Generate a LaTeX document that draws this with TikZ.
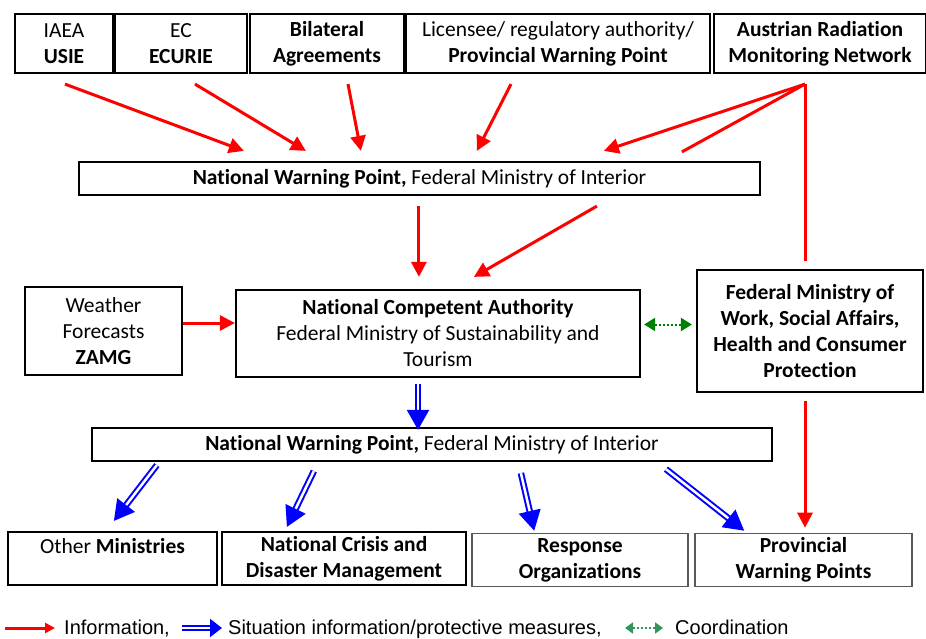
\documentclass[tikz,border=0pt]{standalone}
\usepackage{fontspec}
\setmainfont[Ligatures=NoCommon]{Carlito}
\newfontfamily\legendfont{Liberation Sans}
\usepackage{xcolor}
\usetikzlibrary{arrows.meta, calc}
\definecolor{infored}{RGB}{255,0,0}
\definecolor{situblue}{RGB}{0,0,255}
\definecolor{coordgreen}{RGB}{0,128,0}
\definecolor{leggreen}{RGB}{50,150,90}
\tikzstyle{box} = [draw, line width=2.2pt, fill=white, align=center, inner sep=2pt, font=\fontsize{21.5}{26}\selectfont]
\tikzstyle{greybox} = [box, draw=black!65, line width=1.6pt]
\tikzstyle{info} = [infored, line width=3pt, -{Triangle[length=15pt,width=15pt]}]
\tikzstyle{infoline} = [infored, line width=3pt]
\tikzstyle{situ} = [situblue, line width=2pt, double=white, double distance=2.5pt, -{Triangle[length=20pt,width=22pt]}]
\tikzstyle{coord} = [coordgreen, line width=2pt, dotted, {Triangle[length=11pt,width=13pt]}-{Triangle[length=11pt,width=13pt]}]

\begin{document}
\begin{tikzpicture}[x=1pt,y=-1pt]
	\useasboundingbox (0,0) rectangle (926,639);
	
	% Sources (top row)
	\node[box, minimum width=98pt, minimum height=59pt] (iaea) at (64,43.5) {IAEA\\\textbf{USIE}};
	\node[box, minimum width=132pt, minimum height=59pt] (ec) at (181,43.5) {EC\\\textbf{ECURIE}};
	\node[box, minimum width=154pt, minimum height=59pt] (bil) at (327,43.5) {\textbf{Bilateral}\\\textbf{Agreements}};
	\node[box, minimum width=304pt, minimum height=59pt] (lic) at (558,43.5) {Licensee/ regulatory authority/\\\textbf{Provincial Warning Point}};
	\node[box, minimum width=212pt, minimum height=59pt] (armn) at (820,43.5) {\textbf{Austrian Radiation}\\\textbf{Monitoring Network}};
	
	% Warning points and authorities
	\node[box, minimum width=681pt, minimum height=33pt] (nwpa) at (419.5,178.5) {\textbf{National Warning Point,} Federal Ministry of Interior};
	\node[box, minimum width=157pt, minimum height=88pt] (weather) at (103.5,331) {Weather\\Forecasts\\\textbf{ZAMG}};
	\node[box, minimum width=404pt, minimum height=87pt] (nca) at (438,333.5) {\textbf{National Competent Authority}\\Federal Ministry of Sustainability and\\Tourism};
	\node[box, minimum width=226pt, minimum height=122pt] (fmw) at (810,331) {\textbf{Federal Ministry of}\\\textbf{Work, Social Affairs,}\\\textbf{Health and Consumer}\\\textbf{Protection}};
	\node[box, minimum width=680pt, minimum height=33pt] (nwpb) at (432,444.5) {\textbf{National Warning Point,} Federal Ministry of Interior};
	
	% Receivers (bottom row)
	\node[box, minimum width=209pt, minimum height=53pt] (om) at (112.5,558.5) {Other \textbf{Ministries}\\\mbox{}};
	\node[box, minimum width=244pt, minimum height=53pt] (ncd) at (344,558.5) {\textbf{National Crisis and}\\\textbf{Disaster Management}};
	\node[greybox, minimum width=216pt, minimum height=53pt] (resp) at (580,560) {\textbf{Response}\\\textbf{Organizations}};
	\node[greybox, minimum width=217pt, minimum height=53pt] (prov) at (803.5,560) {\textbf{Provincial}\\\textbf{Warning Points}};
	\coordinate (armnout) at ([xshift=-15pt,yshift=-10pt]armn.south);
	
	% Information
	\draw[info] ([xshift=1pt,yshift=-10pt]iaea.south) -- ($(nwpa.north west)+(166,-10)$);
	\draw[info] ([xshift=14pt,yshift=-10pt]ec.south) -- ($(nwpa.north west)+(228,-10)$);
	\draw[info] ([xshift=21pt,yshift=-10pt]bil.south) -- ($(nwpa.north west)+(283,-10)$);
	\draw[info] ([xshift=-47pt,yshift=-10pt]lic.south) -- ($(nwpa.north west)+(399,-10)$);
	\draw[info] (armnout) -- ($(nwpa.north west)+(526,-10)$);
	\draw[infoline] (armnout) -- ($(nwpa.north west)+(604,-9)$);
	\draw[info] ($(nwpa.south west)+(519,10)$) -- ($(nca.north west)+(239,-12)$);
	\draw[info] ($(nwpa.south west)+(341,10)$) -- ($(nca.north west)+(184,-12)$);
	\draw[infoline, shorten >=8pt] (armnout) -- (armnout |- fmw.north);
	\draw[info, shorten <=8pt, shorten >=5pt] (armnout |- fmw.south) -- (armnout |- prov.north);
	\draw[info] ([yshift=8pt]weather.east) -- ([yshift=8pt]weather.east -| nca.west);
	
	% Coordination
	\draw[coord, shorten <=3pt, shorten >=4pt] ([yshift=9pt]nca.east) -- ([yshift=9pt]nca.east -| fmw.west);
	
	% Situation information / protective measures
	\draw[situ, shorten >=3pt] ([xshift=-20pt,yshift=-6pt]nca.south) -- ([xshift=-20pt,yshift=-6pt]nca.south |- nwpb.north);
	\draw[situ] ($(nwpb.south west)+(66,3)$) -- ($(om.north west)+(107,-10)$);
	\draw[situ] ($(nwpb.south west)+(223,9)$) -- ($(ncd.north west)+(66,-4)$);
	\draw[situ] ($(nwpb.south west)+(430,11)$) -- ($(resp.north west)+(63,-2)$);
	\draw[situ] ($(nwpb.south west)+(575,7)$) -- ($(prov.north west)+(50,-2)$);
	
	% Legend
	\begin{scope}[font=\legendfont\fontsize{20}{24}\selectfont]
		\node[anchor=base west, inner sep=0pt] (linfo) at (64,634) {Information,};
		\node[anchor=base west, inner sep=0pt] (lsitu) at (228,634) {Situation information/protective measures,};
		\node[anchor=base west, inner sep=0pt] (lcoord) at (675,634) {Coordination};
		\coordinate (linfoa) at (5,628);
		\coordinate (lsitua) at (182,628);
		\coordinate (lcoorda) at (625,628);
		\draw[infored, line width=3pt, -{Triangle[length=10pt,width=10pt]}] (linfoa) -- ++(50,0);
		\draw[situblue, line width=2.2pt, double=white, double distance=1.5pt, -{Triangle[length=12pt,width=18pt]}] (lsitua) -- ++(40,0);
		\draw[leggreen, line width=2pt, dotted, {Triangle[length=8pt,width=11pt]}-{Triangle[length=8pt,width=11pt]}] (lcoorda) -- ++(38,0);
	\end{scope}
	
\end{tikzpicture}
\end{document}
